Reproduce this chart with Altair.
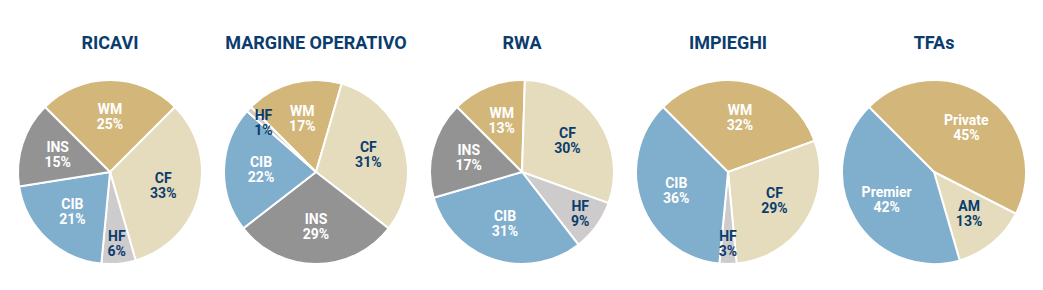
import math
import altair as alt
import pandas as pd

titles = ["RICAVI", "MARGINE OPERATIVO", "RWA", "IMPIEGHI", "TFAs"]

ricavi_cats = ["WM", "CF", "HF", "CIB", "INS"]
ricavi_vals = [25, 33, 6, 21, 15]

margine_cats = ["WM", "CF", "INS", "CIB", "HF"]
margine_vals = [17, 31, 29, 22, 1]

rwa_cats = ["WM", "CF", "HF", "CIB", "INS"]
rwa_vals = [13, 30, 9, 31, 17]

impieghi_cats = ["WM", "CF", "HF", "CIB"]
impieghi_vals = [32, 29, 3, 36]

tfa_cats = ["Private", "AM", "Premier"]
tfa_vals = [45, 13, 42]

GOLD = "#d3b67a"
BEIGE = "#e4dcbd"
LGREY = "#cdcbcc"
BLUE = "#80aecd"
GREY = "#939393"
NAVY = "#0b3c6e"

slice_colors = {"WM": GOLD, "Private": GOLD, "CF": BEIGE, "AM": BEIGE,
                "HF": LGREY, "CIB": BLUE, "Premier": BLUE, "INS": GREY}
text_colors = {"WM": "white", "Private": "white", "CIB": "white", "Premier": "white",
               "INS": "white", "CF": NAVY, "AM": NAVY, "HF": NAVY}

cat_domain = list(slice_colors.keys())
cat_range = [slice_colors[c] for c in cat_domain]

START = -math.pi / 4
R = 92


def pie(title, cats, vals):
    df = pd.DataFrame({"cat": cats, "val": vals})
    df["end"] = df["val"].cumsum()
    df["start"] = df["end"] - df["val"]
    df["mid"] = (df["start"] + df["end"]) / 2
    df["label"] = [f"{c}\n{v}%" for c, v in zip(cats, vals)]
    df["tcol"] = [text_colors[c] for c in cats]
    df["lr"] = [55 if v >= 10 else 72 for v in vals]
    total = float(df["val"].sum())
    tscale = alt.Scale(domain=[0, total], range=[START, START + 2 * math.pi])
    base = alt.Chart(df)
    arcs = base.mark_arc(outerRadius=R, stroke="white", strokeWidth=2).encode(
        theta=alt.Theta("start:Q", scale=tscale),
        theta2="end:Q",
        color=alt.Color("cat:N", scale=alt.Scale(domain=cat_domain, range=cat_range), legend=None),
    )
    labels = base.mark_text(font="Roboto", fontSize=14, fontWeight="bold",
                            lineBreak="\n", lineHeight=15, dy=-7,
                            align="center", baseline="middle").encode(
        theta=alt.Theta("mid:Q", scale=tscale),
        radius=alt.Radius("lr:Q", scale=None),
        text="label:N",
        fill=alt.Fill("tcol:N", scale=None),
    )
    return alt.layer(arcs, labels).properties(
        width=206, height=190,
        title=alt.TitleParams(title, font="Roboto", fontSize=18, fontWeight="bold",
                              color=NAVY, anchor="middle", baseline="alphabetic", offset=9),
    )


charts = [
    pie(titles[0], ricavi_cats, ricavi_vals),
    pie(titles[1], margine_cats, margine_vals),
    pie(titles[2], rwa_cats, rwa_vals),
    pie(titles[3], impieghi_cats, impieghi_vals),
    pie(titles[4], tfa_cats, tfa_vals),
]

chart = alt.hconcat(*charts, spacing=0).properties(
    padding={"left": 7, "top": 35, "right": 0, "bottom": 0},
    background="white",
).configure_view(stroke=None)

chart.save("out.html", embed_options={"renderer": "svg", "actions": False})
